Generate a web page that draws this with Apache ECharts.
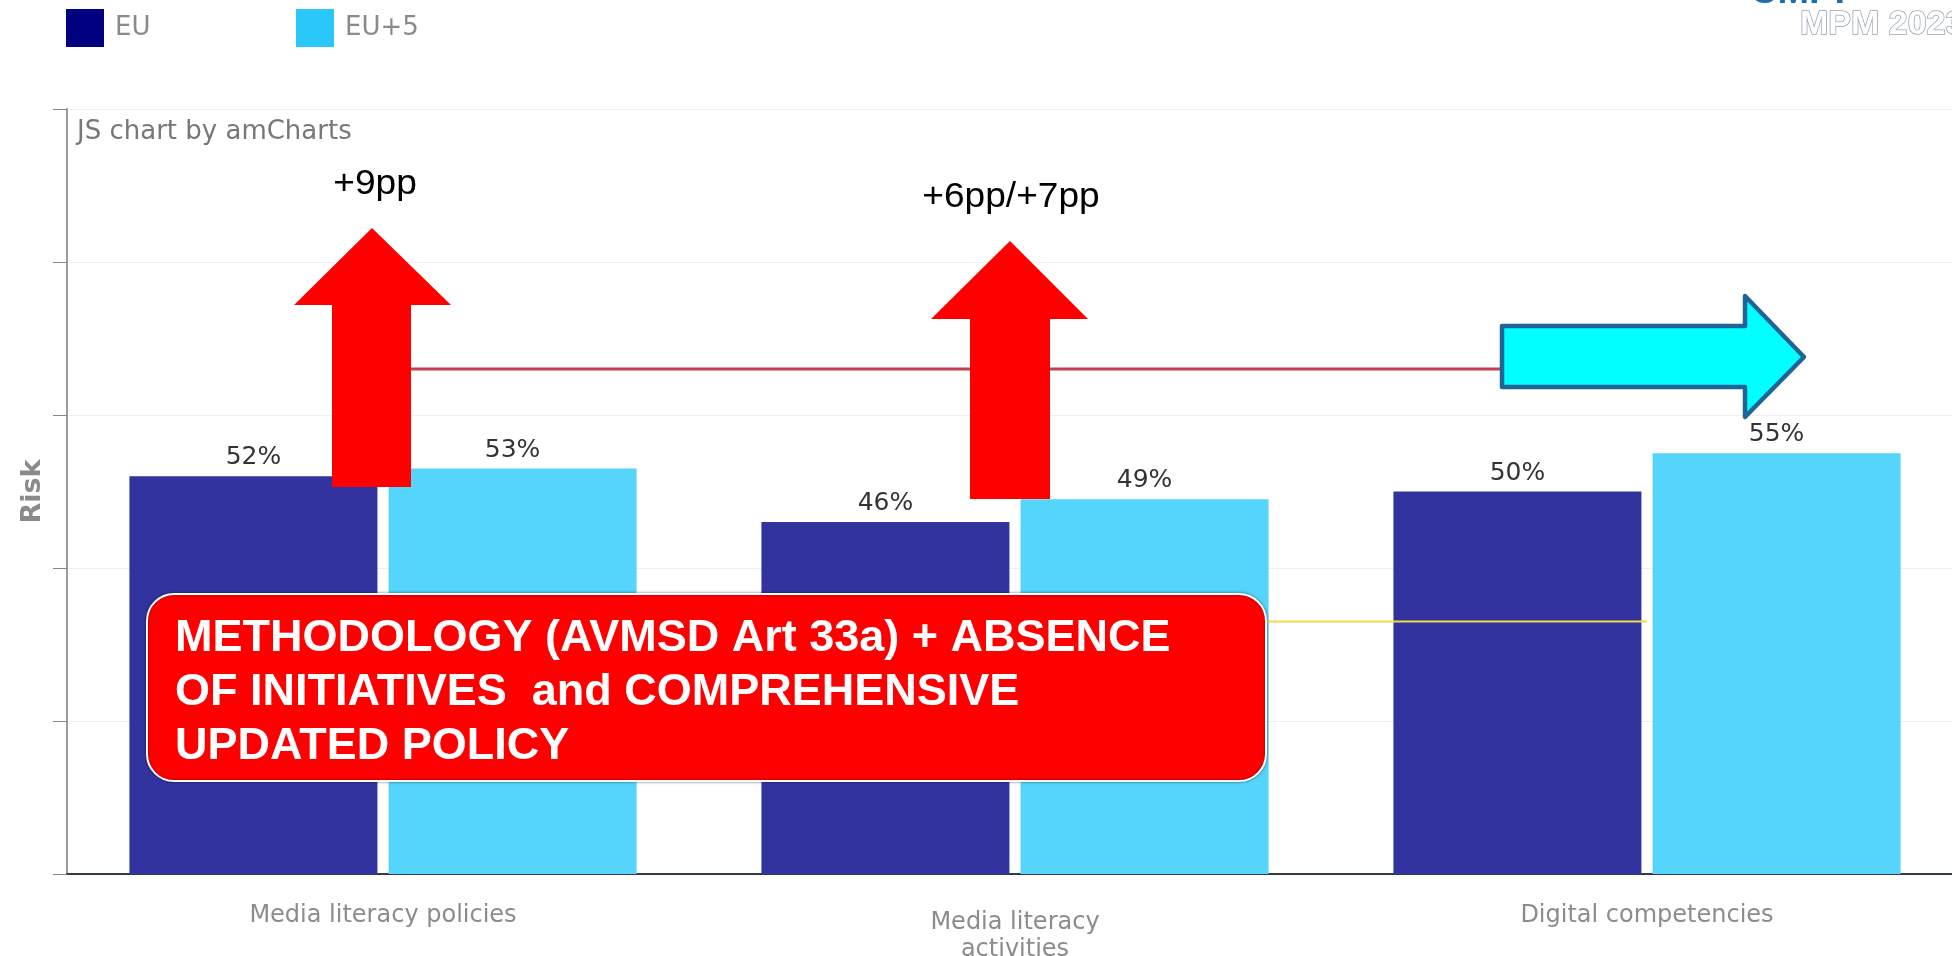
<!DOCTYPE html>
<html>
<head>
<meta charset="utf-8">
<title>Media literacy risk</title>
<script src="https://cdn.jsdelivr.net/npm/echarts@6.0.0/dist/echarts.min.js"></script>
<style>
  html, body { margin: 0; padding: 0; background: #fff; }
  #chart { width: 1952px; height: 956px; }
</style>
</head>
<body>
<div id="chart"></div>
<script>
// categories and values
const categories = ['Media literacy policies', 'Media literacy\nactivities', 'Digital competencies'];
const euValues = [52, 46, 50];       // EU
const eu5Values = [53, 49, 55];      // EU+5
const highRiskLine = [66, 66, 66];   // high risk threshold
const lowRiskLine = [33, 33, 33];    // low risk threshold

// annotations on the slide
const changeNotes = ['+9pp', '+6pp/+7pp'];
const boxText = 'METHODOLOGY (AVMSD Art 33a) + ABSENCE\nOF INITIATIVES  and COMPREHENSIVE\nUPDATED POLICY';

const chart = echarts.init(document.getElementById('chart'));

const labelFont = 'DejaVu Sans, Verdana, sans-serif';
const arialFont = 'Liberation Sans, Arial, sans-serif';

const options = {
  backgroundColor: '#fff',
  animation: false,
  legend: [
    {
      left: 66, top: 9, padding: 0,
      icon: 'rect', itemWidth: 38, itemHeight: 38,
      selectedMode: false,
      data: [{ name: 'EU', itemStyle: { color: '#000080' } }],
      textStyle: { fontSize: 26, color: '#8a8a8a', fontFamily: labelFont, padding: [0, 0, 0, 6] }
    },
    {
      left: 296, top: 9, padding: 0,
      icon: 'rect', itemWidth: 38, itemHeight: 38,
      selectedMode: false,
      data: [{ name: 'EU+5', itemStyle: { color: '#2ac8f8' } }],
      textStyle: { fontSize: 26, color: '#8a8a8a', fontFamily: labelFont, padding: [0, 0, 0, 6] }
    }
  ],
  // plot runs a bit past the right edge, like the cropped screenshot
  grid: { left: 67, top: 109, width: 1896, height: 765, outerBoundsMode: 'none' },
  xAxis: {
    type: 'category',
    data: categories,
    axisLine: { lineStyle: { color: '#333d47', width: 2 } },
    axisTick: { alignWithLabel: true, length: 12, lineStyle: { color: '#333' } },
    axisLabel: {
      margin: 29,
      fontSize: 24,
      lineHeight: 26,
      color: '#8c8c8c',
      fontFamily: labelFont,
      // the two-line label sits a bit lower in the original
      formatter: function (value) {
        const parts = value.split('\n');
        if (parts.length > 1) {
          return '{a|' + parts[0] + '}\n{b|' + parts[1] + '}';
        }
        return value;
      },
      rich: {
        a: { fontSize: 24, lineHeight: 40, color: '#8c8c8c', fontFamily: labelFont },
        b: { fontSize: 24, lineHeight: 14, color: '#8c8c8c', fontFamily: labelFont }
      }
    }
  },
  yAxis: {
    type: 'value',
    min: 0,
    max: 100,
    interval: 20,
    name: 'Risk',
    nameLocation: 'middle',
    nameGap: 21,
    nameTextStyle: { fontSize: 27, fontWeight: 'bold', color: '#8a8a8a', fontFamily: labelFont },
    axisLabel: { show: false },
    axisLine: { show: true, lineStyle: { color: '#999', width: 2 } },
    axisTick: { show: true, length: 14, lineStyle: { color: '#888' } },
    splitLine: { lineStyle: { color: '#efefef' } }
  },
  series: [
    {
      name: 'EU',
      type: 'bar',
      data: euValues,
      barWidth: 248,
      barGap: '4.5%',
      itemStyle: { color: '#3333a0' },
      label: {
        show: true, position: 'top', distance: 6,
        formatter: '{c}%', fontSize: 25, color: '#333', fontFamily: labelFont
      }
    },
    {
      name: 'EU+5',
      type: 'bar',
      data: eu5Values,
      barWidth: 248,
      barGap: '4.5%',
      itemStyle: { color: '#55d4fc' },
      label: {
        show: true, position: 'top', distance: 6,
        formatter: '{c}%', fontSize: 25, color: '#333', fontFamily: labelFont
      }
    },
    {
      name: 'High risk',
      type: 'line',
      data: highRiskLine,
      symbol: 'none',
      lineStyle: { color: '#c04050', width: 3 },
      z: 3
    },
    {
      name: 'Low risk',
      type: 'line',
      data: lowRiskLine,
      symbol: 'none',
      lineStyle: { color: '#f2dc4a', width: 2 },
      z: 3
    }
  ],
  graphic: [
    // amCharts credit
    {
      type: 'text', x: 77, y: 132, z: 50,
      style: { text: 'JS chart by amCharts', fontSize: 26, fontFamily: labelFont, fill: '#777', verticalAlign: 'middle' }
    },
    // logo in the corner (cut off)
    {
      type: 'text', x: 1750, y: -7, z: 50,
      style: { text: 'CMPF', fontSize: 38, fontWeight: 'bold', fontFamily: arialFont, fill: '#1a6fb0', verticalAlign: 'middle' }
    },
    {
      type: 'text', x: 1800, y: 25, z: 50,
      style: {
        text: 'MPM 2023', fontSize: 34, fontWeight: 'bold', fontFamily: arialFont,
        fill: '#ffffff', stroke: '#9aa4b0', lineWidth: 1.5, verticalAlign: 'middle'
      }
    },
    // red arrows up
    {
      type: 'polygon', z: 100,
      shape: { points: [[372, 228], [451, 305], [411, 305], [411, 487], [332, 487], [332, 305], [294, 305]] },
      style: { fill: '#ff0000' }
    },
    {
      type: 'polygon', z: 100,
      shape: { points: [[1010, 241], [1088, 319], [1050, 319], [1050, 499], [970, 499], [970, 319], [931, 319]] },
      style: { fill: '#ff0000' }
    },
    {
      type: 'text', x: 375, y: 184, scaleX: 1.06, z: 100,
      style: { text: changeNotes[0], x: 0, y: 0, align: 'center', verticalAlign: 'middle', fontSize: 35, fontFamily: arialFont, fill: '#000' }
    },
    {
      type: 'text', x: 1011, y: 197, scaleX: 1.06, z: 100,
      style: { text: changeNotes[1], x: 0, y: 0, align: 'center', verticalAlign: 'middle', fontSize: 35, fontFamily: arialFont, fill: '#000' }
    },
    // cyan arrow right
    {
      type: 'polygon', z: 100,
      shape: { points: [[1502, 326], [1745, 326], [1745, 296], [1804, 357], [1745, 417], [1745, 387], [1502, 387]] },
      style: { fill: '#00ffff', stroke: '#1e6496', lineWidth: 4.5, lineJoin: 'round' }
    },
    // red box with the text
    {
      type: 'rect', z: 100,
      shape: { x: 147, y: 594, width: 1119, height: 187, r: 27 },
      style: { fill: '#ff0000', stroke: '#ffffff', lineWidth: 2, shadowColor: 'rgba(0,0,0,0.45)', shadowBlur: 3 }
    },
    {
      type: 'text', x: 175, y: 612, z: 101,
      style: {
        text: boxText, fontSize: 45, fontWeight: 'bold', fontFamily: arialFont,
        fill: '#ffffff', lineHeight: 54, verticalAlign: 'top'
      }
    }
  ]
};

chart.setOption(options);
</script>
</body>
</html>
